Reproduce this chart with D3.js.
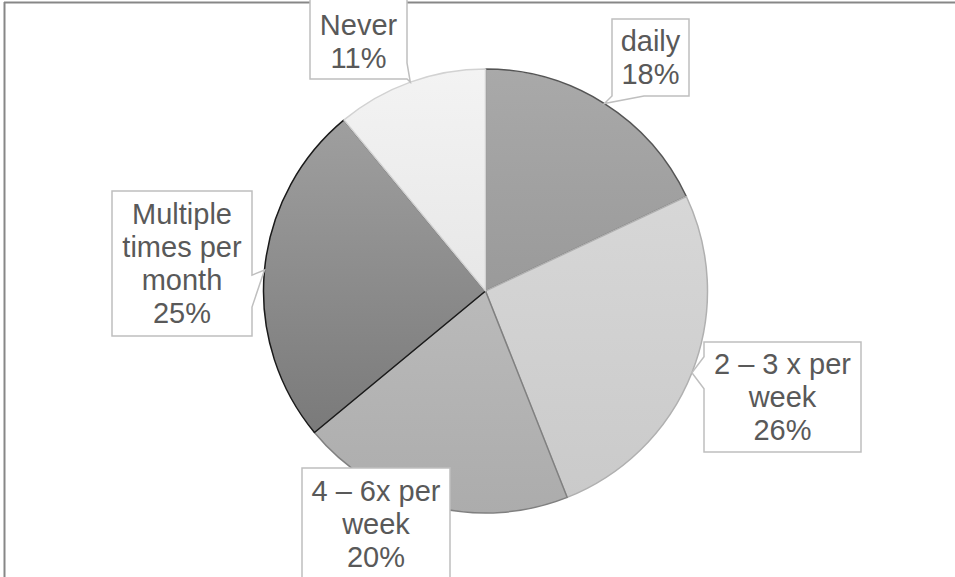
<!DOCTYPE html>
<html><head><meta charset="utf-8">
<script src="https://cdn.jsdelivr.net/npm/d3@7"></script>
<style>html,body{margin:0;padding:0;background:#fff;overflow:hidden}</style>
</head><body>
<svg id="chart" width="955" height="577"></svg>
<script>
// ---- data ----
const categories = ["daily", "2 – 3 x per week", "4 – 6x per week", "Multiple times per month", "Never"];
const values = [18, 26, 20, 25, 11];
const labelLines = [["daily","18%"],["2 – 3 x per","week","26%"],["4 – 6x per","week","20%"],["Multiple","times per","month","25%"],["Never","11%"]];

// ---- styles / layout ----
const gradTop = ["#a9a9a9","#d7d7d7","#bababa","#9f9f9f","#f3f3f3"];
const gradBot = ["#9a9a9a","#cacaca","#acacac","#7a7a7a","#e7e7e7"];
const strokes = ["#555555","#b0b0b0","#808080","#1a1a1a","#d2d2d2"];
// label boxes: [x0, y0, x1, y1, side, wedge offset]
const boxes = [
  [612, 19, 689, 96, "bottom", 0],
  [704, 342, 861, 452, "left", 0],
  [302, 468, 450, 600, "none", 0],
  [112, 191, 252, 336, "right", 21],
  [310, -5, 407, 79, "right", 0]
];
const cx = 485.5, cy = 291, R = 222;

const svg = d3.select("#chart");
const defs = svg.append("defs");

// frame
svg.append("line").attr("x1",4).attr("x2",955).attr("y1",2.5).attr("y2",2.5).attr("stroke","#878787").attr("stroke-width",2);
svg.append("line").attr("x1",4.5).attr("x2",4.5).attr("y1",2).attr("y2",577).attr("stroke","#878787").attr("stroke-width",2);

const pie = d3.pie().sort(null).value(d => d);
const arcs = pie(values);
const arc = d3.arc().innerRadius(0).outerRadius(R);

categories.forEach((c,i) => {
  const g = defs.append("linearGradient").attr("id","g"+i).attr("x1",0).attr("y1",0).attr("x2",0).attr("y2",1);
  g.append("stop").attr("offset","0%").attr("stop-color",gradTop[i]);
  g.append("stop").attr("offset","100%").attr("stop-color",gradBot[i]);
});

const pg = svg.append("g").attr("transform",`translate(${cx},${cy})`);
pg.selectAll("path").data(arcs).join("path")
  .attr("d", arc)
  .attr("fill",(d,i)=>`url(#g${i})`)
  .attr("stroke",(d,i)=>strokes[i])
  .attr("stroke-width",1.5)
  .attr("stroke-linejoin","round");

// callouts
const lg = svg.append("g");
arcs.forEach((a,i) => {
  const mid = (a.startAngle + a.endAngle)/2;
  const tx = cx + R*Math.sin(mid), ty = cy - R*Math.cos(mid);
  const [x0,y0,x1,y1,side,off] = boxes[i];
  const hw = 16;
  let pts;
  const clamp = (v,lo,hi)=>Math.max(lo,Math.min(hi,v));
  if (side === "right") {
    const p = clamp(ty + off, y0, y1);
    const a1 = clamp(p-hw, y0, y1), a2 = clamp(p+hw, y0, y1);
    pts = [[x0,y0],[x1,y0],[x1,a1],[tx,ty],[x1,a2],[x1,y1],[x0,y1]];
  } else if (side === "left") {
    const p = clamp(ty + off, y0, y1);
    const a1 = clamp(p-hw, y0, y1), a2 = clamp(p+hw, y0, y1);
    pts = [[x0,y0],[x1,y0],[x1,y1],[x0,y1],[x0,a2],[tx,ty],[x0,a1]];
  } else if (side === "bottom") {
    const p = clamp(tx, x0, x1);
    const a1 = clamp(p-hw, x0, x1), a2 = clamp(p+2*hw, x0, x1);
    pts = [[x0,y0],[x1,y0],[x1,y1],[a2,y1],[tx,ty],[a1,y1],[x0,y1]];
  } else {
    pts = [[x0,y0],[x1,y0],[x1,y1],[x0,y1]];
  }
  lg.append("path").attr("d", d3.line()(pts)+"Z")
    .attr("fill","#fff").attr("stroke","#bfbfbf").attr("stroke-width",1.5);
  const lines = labelLines[i];
  const lh = 33;
  const ymid = (i===4) ? 41 : (i===2 ? 524 : (y0+y1)/2);
  const t = lg.append("text").attr("x",(x0+x1)/2).attr("text-anchor","middle")
    .attr("font-family","'Liberation Sans', Arial, sans-serif").attr("font-size",29).attr("fill","#595959");
  lines.forEach((ln,k) => {
    t.append("tspan").attr("x",(x0+x1)/2)
      .attr("y", ymid + (k-(lines.length-1)/2)*lh)
      .attr("dy","0.35em").text(ln);
  });
});
</script>
</body></html>
